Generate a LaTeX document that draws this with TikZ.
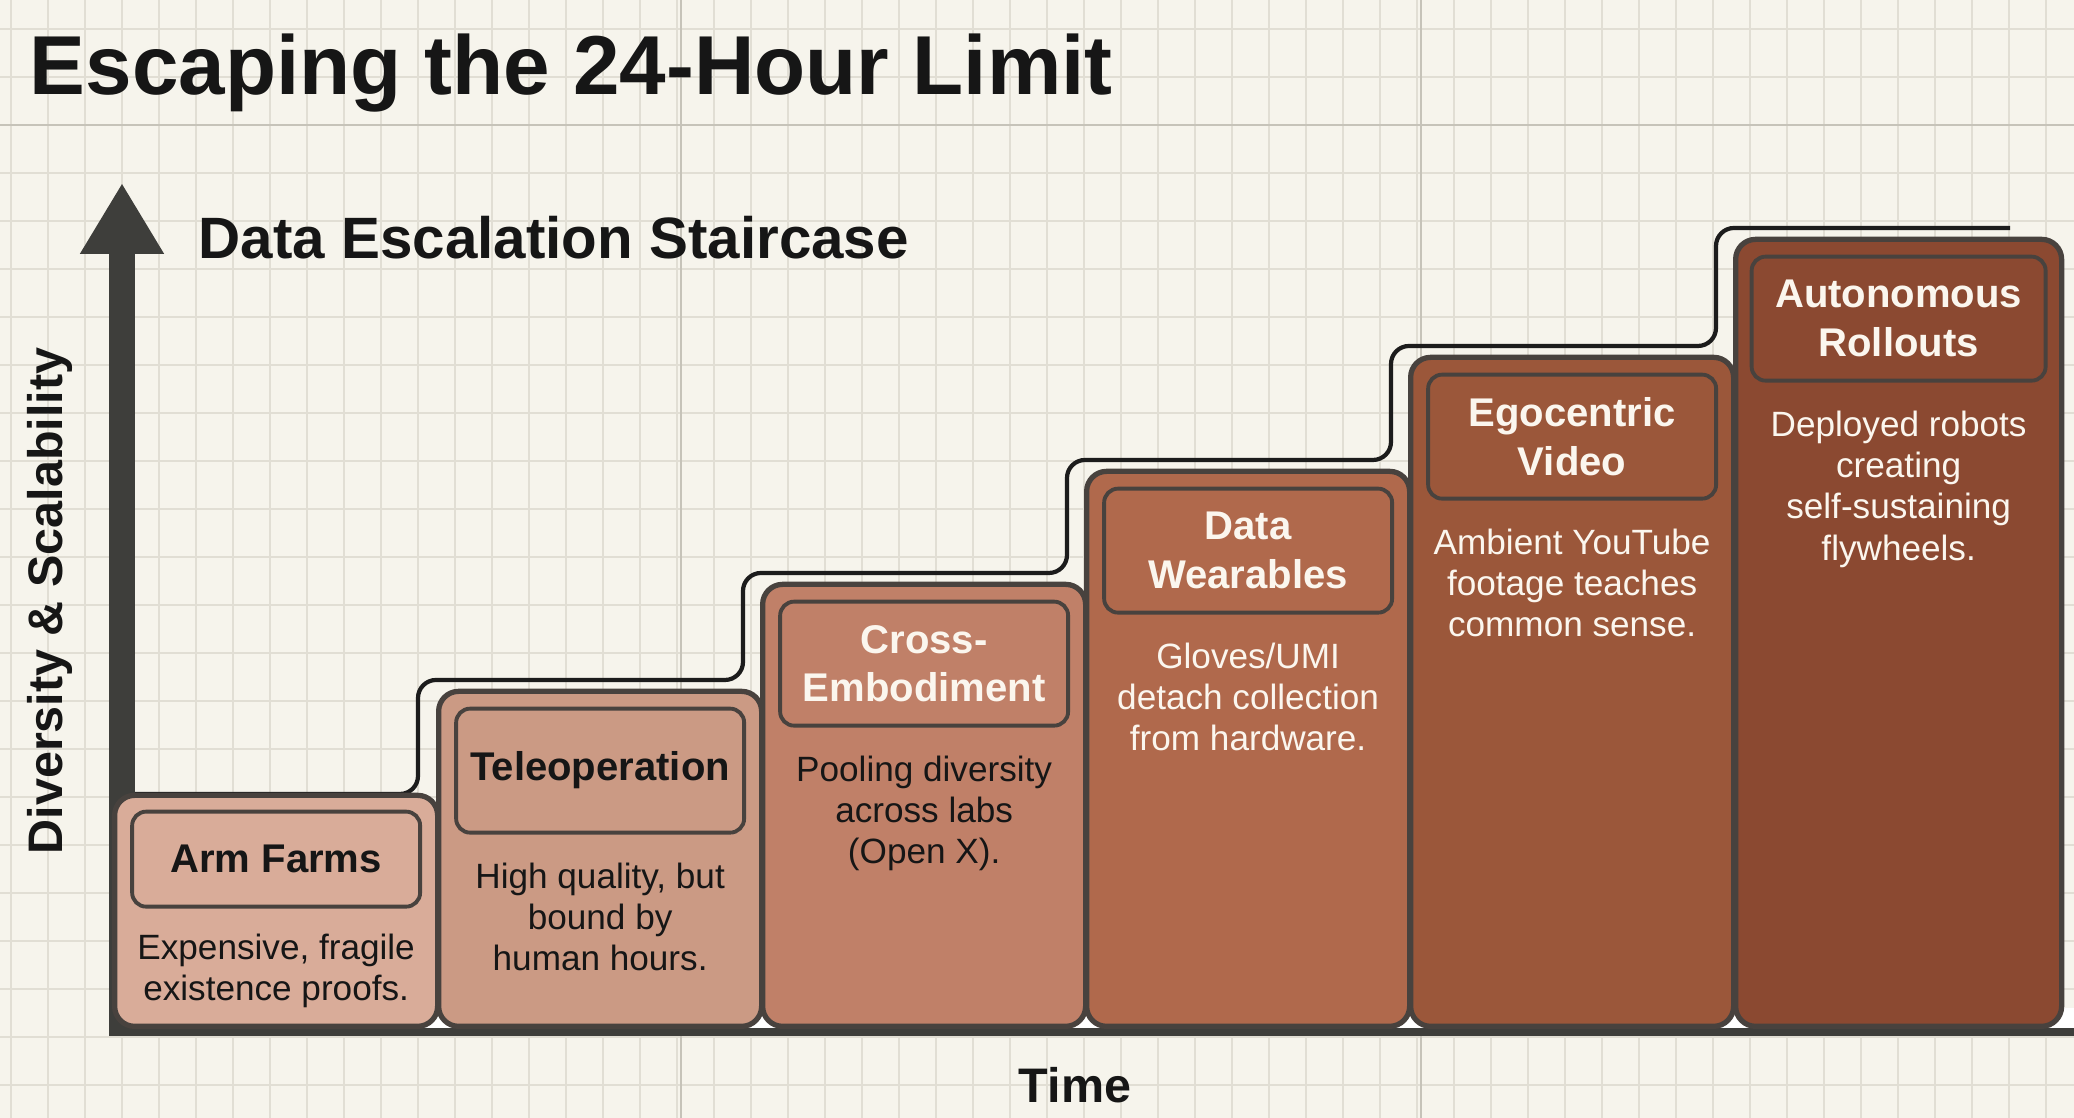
\documentclass[tikz,border=0pt]{standalone}
\usepackage{fontspec}
\setmainfont{Liberation Sans}
\usetikzlibrary{arrows.meta,positioning}
\definecolor{paper}{HTML}{F6F4EC}
\definecolor{gridline}{HTML}{E1DED4}
\definecolor{gridmajor}{HTML}{C6C3B9}
\definecolor{ink}{HTML}{161616}
\definecolor{axisgray}{HTML}{3E3E3B}
\definecolor{rim}{HTML}{48423E}
\definecolor{cream}{HTML}{FBF6EE}
\definecolor{clayA}{HTML}{D9AC99}
\definecolor{clayB}{HTML}{CB9A84}
\definecolor{clayC}{HTML}{C08068}
\definecolor{clayD}{HTML}{B0694C}
\definecolor{clayE}{HTML}{9B573A}
\definecolor{clayF}{HTML}{8B4931}

\begin{document}
\begin{tikzpicture}[
  stepbox/.style={draw=rim, line width=1.5pt, rounded corners=0.2cm,
    minimum width=3.23cm, anchor=south west, inner sep=0pt},
  titlebox/.style={draw=rim, line width=1.1pt, rounded corners=0.14cm,
    minimum width=2.88cm, inner sep=0pt, align=center,
    font=\fontsize{11.4}{13.9}\selectfont\bfseries},
  desc/.style={inner sep=0pt, align=center, font=\fontsize{10}{11.7}\selectfont},
  axislabel/.style={text=ink, font=\fontsize{13.8}{16}\selectfont\bfseries}]
  \useasboundingbox (0,0) rectangle (20.74,11.18);
  \fill[paper] (0,0) rectangle (20.74,11.18);
  \foreach \i in {0,...,55}
    \draw[gridline, line width=0.5pt] (0.11+0.37*\i,0) -- (0.11+0.37*\i,11.18);
  \foreach \j in {0,...,22}
    \draw[gridline, line width=0.5pt] (0,10.89-0.48*\j) -- (20.74,10.89-0.48*\j);
  \draw[gridmajor, line width=0.7pt] (6.81,0) -- (6.81,11.18);
  \draw[gridmajor, line width=0.7pt] (14.21,0) -- (14.21,11.18);
  \draw[gridmajor, line width=0.7pt] (0,9.93) -- (20.74,9.93);

  \node[anchor=base west, inner sep=0pt, text=ink, font=\fontsize{23.8}{28}\selectfont\bfseries]
    (title) at (0.29,10.23) {Escaping the 24-Hour Limit};
  \node[anchor=west, inner sep=0pt, text=ink, font=\fontsize{16.6}{20}\selectfont\bfseries]
    (subtitle) at (1.98,8.80) {Data Escalation Staircase};

  \coordinate (origin) at (1.22,0.82);
  \coordinate (ytop) at (1.22,9.35);
  \coordinate (xstart) at (1.09,0.86);
  \coordinate (xend) at (20.74,0.86);
  \coordinate (lead) at (1.35,3.24);
  \coordinate (tail) at (20.10,8.90);

  \draw[axisgray, line width=0.08cm] (xstart) -- (xend);
  \draw[axisgray, line width=0.26cm, -{Triangle[width=0.79cm,length=0.71cm]}] (origin) -- (ytop);
  \draw[ink!85!axisgray, line width=1.2pt, rounded corners=0.18cm]
    (lead) -- (4.18,3.24) -- (4.18,4.38) -- (7.43,4.38) -- (7.43,5.45)
    -- (10.67,5.45) -- (10.67,6.58) -- (13.91,6.58) -- (13.91,7.72)
    -- (17.16,7.72) -- (17.16,8.90) -- (tail);
  \foreach \g in {4.36,7.60,10.84,14.08,17.32,20.59}
    \fill[white] (\g-0.2,0.9) rectangle (\g+0.2,1.1);

  \node[axislabel, rotate=90] (ylabel) at (0.50,5.17) {Diversity \& Scalability};
  \node[axislabel] (xlabel) at (10.75,0.33) {Time};

  \node[stepbox, fill=clayA, minimum height=2.31cm] (s1) at (1.12,0.89) {};
  \node[titlebox, minimum height=0.95cm, text=ink, below=0.17cm of s1.north] (t1) {Arm Farms};
  \node[desc, text=ink, below=0.25cm of t1] (d1) {Expensive, fragile\\existence proofs.};

  \node[stepbox, fill=clayB, minimum height=3.35cm] (s2) at (4.36,0.89) {};
  \node[titlebox, minimum height=1.24cm, text=ink, below=0.18cm of s2.north] (t2) {Teleoperation};
  \node[desc, text=ink, below=0.28cm of t2] (d2) {High quality, but\\bound by\\human hours.};

  \node[stepbox, fill=clayC, minimum height=4.42cm] (s3) at (7.60,0.89) {};
  \node[titlebox, minimum height=1.24cm, text=cream, below=0.18cm of s3.north] (t3) {Cross-\\Embodiment};
  \node[desc, text=ink, below=0.28cm of t3] (d3) {Pooling diversity\\across labs\\(Open X).};

  \node[stepbox, fill=clayD, minimum height=5.55cm] (s4) at (10.84,0.89) {};
  \node[titlebox, minimum height=1.24cm, text=cream, below=0.18cm of s4.north] (t4) {Data\\Wearables};
  \node[desc, text=cream, below=0.28cm of t4] (d4) {Gloves/UMI\\detach collection\\from hardware.};

  \node[stepbox, fill=clayE, minimum height=6.69cm] (s5) at (14.08,0.89) {};
  \node[titlebox, minimum height=1.24cm, text=cream, below=0.18cm of s5.north] (t5) {Egocentric\\Video};
  \node[desc, text=cream, below=0.28cm of t5] (d5) {Ambient YouTube\\footage teaches\\common sense.};

  \node[stepbox, fill=clayF, minimum height=7.87cm, minimum width=3.26cm] (s6) at (17.33,0.89) {};
  \node[titlebox, minimum height=1.24cm, minimum width=2.94cm, text=cream, below=0.18cm of s6.north] (t6) {Autonomous\\Rollouts};
  \node[desc, text=cream, below=0.28cm of t6] (d6) {Deployed robots\\creating\\self-sustaining\\flywheels.};
\end{tikzpicture}
\end{document}
